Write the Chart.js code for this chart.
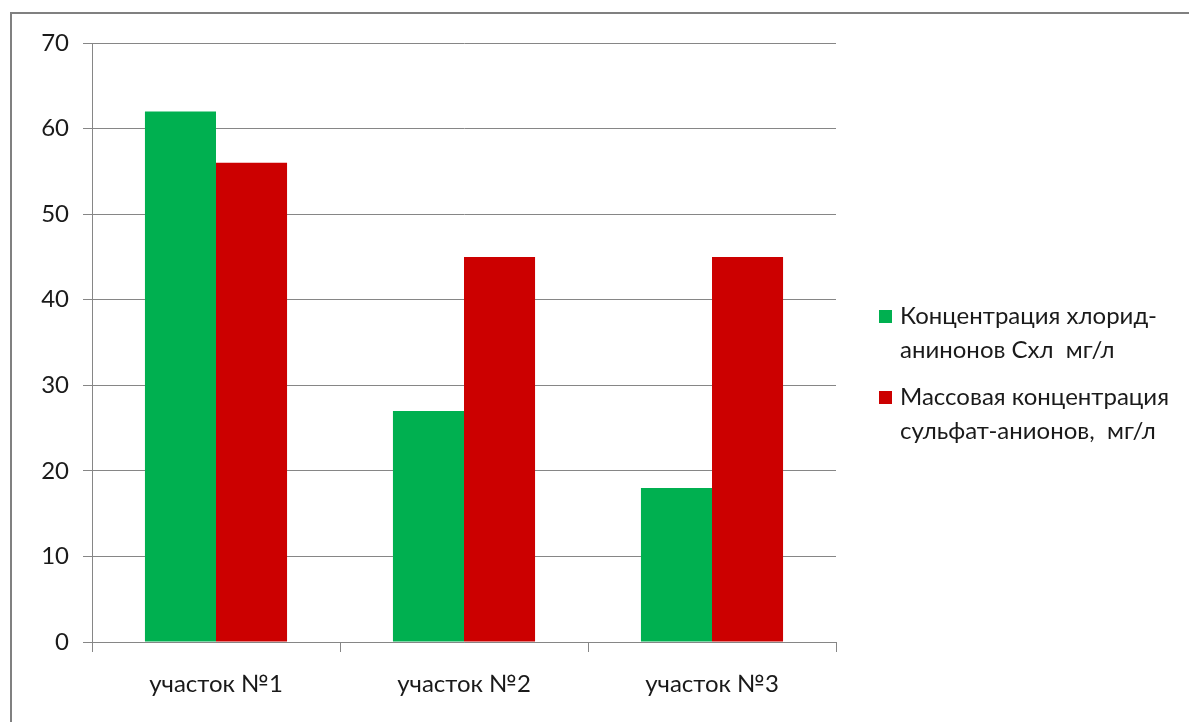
<!DOCTYPE html>
<html>
<head>
<meta charset="utf-8">
<script src="https://cdn.jsdelivr.net/npm/chart.js@4.4.1/dist/chart.umd.min.js"></script>
<style>
  html, body { margin: 0; padding: 0; background: #ffffff; }
  #wrap { width: 1189px; height: 722px; position: relative; }
</style>
</head>
<body>
<div id="wrap"><canvas id="c" width="1189" height="722"></canvas></div>
<script>
// Categories and values
const categories = ['участок №1', 'участок №2', 'участок №3'];
const chlorideValues = [62, 27, 18];
const sulfateValues = [56, 45, 45];
const chlorideLabel = ['Концентрация хлорид-', 'анинонов Схл  мг/л'];
const sulfateLabel = ['Массовая концентрация', 'сульфат-анионов,  мг/л'];
const yTicks = [0, 10, 20, 30, 40, 50, 60, 70];

const FONT = 'Lato, "Open Sans", sans-serif';
const GRID = '#868686';
const TEXT = '#1a1a1a';

// Outer frame of the chart object
const framePlugin = {
  id: 'frame',
  beforeDraw(chart) {
    const ctx = chart.ctx;
    ctx.save();
    ctx.fillStyle = '#ffffff';
    ctx.fillRect(0, 0, chart.width, chart.height);
    ctx.strokeStyle = '#808080';
    ctx.lineWidth = 2;
    ctx.beginPath();
    ctx.moveTo(11, chart.height + 5);
    ctx.lineTo(11, 13);
    ctx.lineTo(chart.width + 5, 13);
    ctx.stroke();
    ctx.restore();
  }
};

// Legend with wrapped labels on the right side
const sideLegend = {
  id: 'sideLegend',
  afterDraw(chart) {
    const ctx = chart.ctx;
    ctx.save();
    ctx.font = '24px ' + FONT;
    ctx.textBaseline = 'middle';
    const tops = [316, 397];
    chart.data.datasets.forEach((ds, k) => {
      const y = tops[k];
      ctx.fillStyle = ds.backgroundColor;
      ctx.fillRect(879, y - 6, 13, 13);
      ctx.fillStyle = TEXT;
      ds.legendLines.forEach((ln, i) => ctx.fillText(ln, 900, y + i * 34));
    });
    ctx.restore();
  }
};

new Chart(document.getElementById('c'), {
  type: 'bar',
  data: {
    labels: categories,
    datasets: [
      { label: chlorideLabel.join(' '), legendLines: chlorideLabel, data: chlorideValues,
        backgroundColor: '#00B050', categoryPercentage: 0.573, barPercentage: 1.0, borderWidth: 0 },
      { label: sulfateLabel.join(' '), legendLines: sulfateLabel, data: sulfateValues,
        backgroundColor: '#CC0000', categoryPercentage: 0.573, barPercentage: 1.0, borderWidth: 0 }
    ]
  },
  options: {
    responsive: false,
    animation: false,
    devicePixelRatio: 1,
    layout: { padding: { left: 0, top: 43, right: 353, bottom: 0 } },
    plugins: { legend: { display: false }, tooltip: { enabled: false } },
    scales: {
      y: {
        min: 0, max: 70,
        afterFit(scale) { scale.width = 92; },
        afterBuildTicks(scale) { scale.ticks = yTicks.map(v => ({ value: v })); },
        ticks: { color: TEXT, padding: 14, font: { family: FONT, size: 24 } },
        grid: { color: GRID, lineWidth: 1, tickLength: 9, drawTicks: true },
        border: { color: GRID, width: 1 }
      },
      x: {
        afterFit(scale) { scale.height = 80; },
        ticks: { color: TEXT, padding: 18, font: { family: FONT, size: 24 } },
        grid: { offset: true, drawOnChartArea: false, color: GRID, tickLength: 10 },
        border: { color: GRID, width: 1 }
      }
    }
  },
  plugins: [framePlugin, sideLegend]
});
</script>
</body>
</html>
